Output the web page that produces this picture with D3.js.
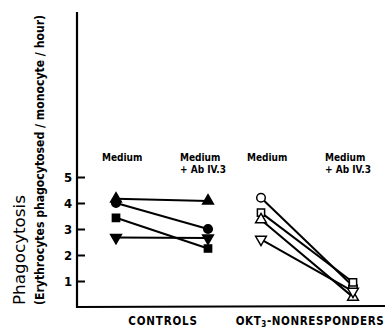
<!DOCTYPE html>
<html>
<head>
<meta charset="utf-8">
<script src="https://cdn.jsdelivr.net/npm/d3@7"></script>
<style>
body { margin: 0; background: #fff; }
text { font-family: "DejaVu Sans Condensed", "DejaVu Sans", sans-serif; fill: #000; }
</style>
</head>
<body>
<script>
// groups and conditions
var groups = ["CONTROLS", "OKT3"];
var conditions = ["Medium", "Ab"];
var yTicks = [1, 2, 3, 4, 5];

// controls: filled symbols, [medium, medium + Ab IV.3]
var ctrlTriUp = [4.16, 4.08];
var ctrlCircle = [4.0, 3.0];
var ctrlSquare = [3.43, 2.25];
var ctrlTriDown = [2.67, 2.65];

// OKT3 nonresponders: open symbols
var nrCircle = [4.2, 0.8];
var nrSquare = [3.63, 0.95];
var nrTriUp = [3.36, 0.38];
var nrTriDown = [2.6, 0.6];

var series = [
  {g: "CONTROLS", sym: d3.symbolTriangle, fill: true, v: ctrlTriUp},
  {g: "CONTROLS", sym: d3.symbolCircle, fill: true, v: ctrlCircle},
  {g: "CONTROLS", sym: d3.symbolSquare, fill: true, v: ctrlSquare},
  {g: "CONTROLS", sym: "down", fill: true, v: ctrlTriDown},
  {g: "OKT3", sym: d3.symbolCircle, fill: false, v: nrCircle},
  {g: "OKT3", sym: d3.symbolSquare, fill: false, v: nrSquare},
  {g: "OKT3", sym: d3.symbolTriangle, fill: false, v: nrTriUp},
  {g: "OKT3", sym: "down", fill: false, v: nrTriDown}
];

var svg = d3.select("body").append("svg").attr("width", 385).attr("height", 328);

var y = d3.scaleLinear().domain([0, 5]).range([307, 177]);
var gx = d3.scalePoint().domain(groups).range([162, 307]);
var cx = d3.scalePoint().domain(conditions).range([-46, 46]);
function px(g, i) { return gx(g) + cx(conditions[i]); }

// y axis with inward ticks
var yAxis = d3.axisRight(y).tickValues(yTicks).tickSize(8).tickFormat("");
var ya = svg.append("g").attr("transform", "translate(77,0)").call(yAxis);
ya.select(".domain").remove();
ya.selectAll(".tick line").attr("stroke-width", 2);
svg.append("line").attr("x1", 77).attr("x2", 77).attr("y1", 12).attr("y2", 308)
  .attr("stroke", "#000").attr("stroke-width", 2.2);
svg.append("line").attr("x1", 76).attr("x2", 385).attr("y1", 307).attr("y2", 306)
  .attr("stroke", "#000").attr("stroke-width", 2.2);
svg.selectAll(".ylab").data(yTicks).enter().append("text")
  .attr("x", 68).attr("y", function(d) { return y(d) + 5; })
  .attr("text-anchor", "middle").attr("font-size", 13).attr("font-weight", "bold")
  .text(function(d) { return d; });

// y titles
svg.append("text").attr("transform", "translate(25,250) rotate(-90)")
  .attr("text-anchor", "middle").attr("font-size", 15)
  .attr("textLength", 110).attr("lengthAdjust", "spacingAndGlyphs")
  .text("Phagocytosis");
svg.append("text").attr("transform", "translate(44,160) rotate(-90)")
  .attr("text-anchor", "middle").attr("font-size", 11.5).attr("font-weight", "bold")
  .attr("textLength", 290).attr("lengthAdjust", "spacingAndGlyphs")
  .text("(Erythrocytes phagocytosed / monocyte / hour)");

// condition labels
groups.forEach(function(g) {
  svg.append("text").attr("x", px(g, 0) - 14).attr("y", 161)
    .attr("font-size", 10).attr("font-weight", "bold").text("Medium");
  svg.append("text").attr("x", px(g, 1) - 28).attr("y", 161)
    .attr("font-size", 10).attr("font-weight", "bold").text("Medium");
  svg.append("text").attr("x", px(g, 1) - 28).attr("y", 173)
    .attr("font-size", 10).attr("font-weight", "bold").text("+ Ab IV.3");
});

// bottom labels
svg.append("text").attr("x", gx("CONTROLS") + 1).attr("y", 325).attr("text-anchor", "middle")
  .attr("font-size", 11.5).attr("font-weight", "bold").attr("letter-spacing", 0.8).text("CONTROLS");
var ok = svg.append("text").attr("x", gx("OKT3") + 3).attr("y", 325).attr("text-anchor", "middle")
  .attr("font-size", 11.5).attr("font-weight", "bold").attr("letter-spacing", 0.6);
ok.append("tspan").text("OKT");
ok.append("tspan").attr("font-size", 8).attr("dy", 1.5).text("3");
ok.append("tspan").attr("dy", -1.5).text("-NONRESPONDERS");

// lines
var line = d3.line().x(function(d) { return d[0]; }).y(function(d) { return d[1]; });
series.forEach(function(s) {
  var pts = s.v.map(function(v, i) { return [px(s.g, i), y(v)]; });
  svg.append("path").attr("d", line(pts)).attr("fill", "none")
    .attr("stroke", "#000").attr("stroke-width", 2);
});

// markers
series.forEach(function(s) {
  s.v.forEach(function(v, i) {
    var down = s.sym == "down";
    var type = down ? d3.symbolTriangle : s.sym;
    var size = type == d3.symbolSquare ? 52 : (type == d3.symbolCircle ? 58 : 50);
    svg.append("path")
      .attr("d", d3.symbol().type(type).size(size)())
      .attr("transform", "translate(" + px(s.g, i) + "," + y(v) + ")" + (down ? " rotate(180)" : ""))
      .attr("fill", s.fill ? "#000" : "#fff")
      .attr("stroke", "#000").attr("stroke-width", 1.5);
  });
});
</script>
</body>
</html>
